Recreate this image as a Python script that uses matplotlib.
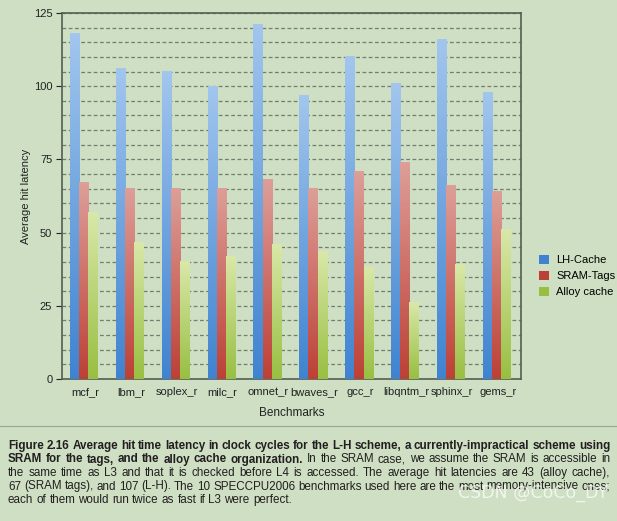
import matplotlib
matplotlib.use("Agg")
import matplotlib.pyplot as plt
import numpy as np
from matplotlib.colors import LinearSegmentedColormap
from matplotlib.ticker import MultipleLocator

benchmarks = ["mcf_r", "lbm_r", "soplex_r", "milc_r", "omnet_r",
              "bwaves_r", "gcc_r", "libqntm_r", "sphinx_r", "gems_r"]
lh_cache = [118, 106, 105, 100, 121, 97, 110, 101, 116, 98]
sram_tags = [67, 65, 65, 65, 68, 65, 71, 74, 66, 64]
alloy_cache = [57, 46.5, 40, 42, 46, 43.5, 38, 26, 39, 51]
series_names = ["LH-Cache", "SRAM-Tags", "Alloy cache"]

bg = "#cedfc3"
# (top colour, bottom colour) for the gradient fill
grads = [("#a2c6ee", "#3f83d0"), ("#dd9f99", "#bd4036"), ("#d9e8a8", "#98bf42")]

plt.rcParams['font.family'] = ['Liberation Sans', 'DejaVu Sans']

fig = plt.figure(figsize=(6.17, 5.21), dpi=100, facecolor=bg)
ax = fig.add_axes([0.1005, 0.2726, 0.7439, 0.7024])
ax.set_facecolor(bg)

x = np.arange(len(benchmarks))
width = 0.2
offsets = [-0.23, -0.03, 0.17]
grad_img = np.linspace(0, 1, 256).reshape(-1, 1)

handles = []
for vals, off, (c_top, c_bot), name in zip([lh_cache, sram_tags, alloy_cache], offsets, grads, series_names):
    cmap = LinearSegmentedColormap.from_list(name, [c_bot, c_top])
    bars = ax.bar(x + off, vals, width, color=c_top, edgecolor="none", label=name, zorder=3)
    for b in bars:
        bx, by = b.get_x(), b.get_y()
        ax.imshow(grad_img, cmap=cmap, aspect="auto", origin="lower",
                  extent=(bx, bx + b.get_width(), by, by + b.get_height()), zorder=4)
        b.set_facecolor("none")
    handles.append(plt.Rectangle((0, 0), 1, 1, facecolor=c_bot))

ax.set_xlim(-0.5, len(benchmarks) - 0.5)
ax.set_ylim(0, 125)
ax.yaxis.set_major_locator(MultipleLocator(25))
ax.yaxis.set_minor_locator(MultipleLocator(5))
ax.grid(axis="y", which="both", linestyle=(0, (3, 2)), color="#737d6e", linewidth=0.9, zorder=1)
ax.set_axisbelow(True)
ax.set_xticks(x)
ax.set_xticklabels(benchmarks, fontsize=8)
ax.tick_params(axis="x", length=0, pad=6, colors="#222222")
ax.tick_params(axis="y", which="major", length=4, labelsize=8, colors="#222222", pad=3)
ax.tick_params(axis="y", which="minor", length=0)
for s in ax.spines.values():
    s.set_color("#555e52")
    s.set_linewidth(1.2)

ax.set_xlabel("Benchmarks", fontsize=8.5, color="#222222", labelpad=7)
ax.set_ylabel("Average hit latency", fontsize=8, color="#222222", labelpad=2)

fig.legend(handles, series_names, loc="upper left", bbox_to_anchor=(0.858, 0.53),
           frameon=False, fontsize=8, handlelength=0.9, handleheight=0.9,
           handletextpad=0.6, labelspacing=0.5)

# caption rule
fig.add_artist(plt.Line2D([0, 1], [1 - 426 / 521, 1 - 426 / 521], color="#9aa396", linewidth=0.8))

caption = [
    ("Figure 2.16  Average hit time latency in clock cycles for the L-H scheme, a currently-impractical scheme using", ""),
    ("SRAM for the tags, and the alloy cache organization.", "In the SRAM case, we assume the SRAM is accessible in"),
    ("", "the same time as L3 and that it is checked before L4 is accessed. The average hit latencies are 43 (alloy cache),"),
    ("", "67 (SRAM tags), and 107 (L-H). The 10 SPECCPU2006 benchmarks used here are the most memory-intensive ones;"),
    ("", "each of them would run twice as fast if L3 were perfect."),
]
cap_font = ['Liberation Sans', 'DejaVu Sans']
cap_size = 8.4
left_px, right_px = 8, 610
line_y = [446, 459.5, 473, 486.5, 500]

fig.canvas.draw()
renderer = fig.canvas.get_renderer()
for i, (bold_part, normal_part) in enumerate(caption):
    words = [(w, "bold") for w in bold_part.split()] + [(w, "normal") for w in normal_part.split()]
    texts = []
    for w, weight in words:
        t = fig.text(0, 1 - line_y[i] / 521, w, fontsize=cap_size, fontweight=weight,
                     family=cap_font, color="#231f20", va="center", ha="left")
        texts.append(t)
    widths = [t.get_window_extent(renderer).width for t in texts]
    total = sum(widths)
    if i < len(caption) - 1 and len(texts) > 1:
        gap = (right_px - left_px - total) / (len(texts) - 1)
    else:
        gap = renderer.points_to_pixels(cap_size) * 0.27
    pos = left_px
    for t, w in zip(texts, widths):
        t.set_x(pos / 617)
        pos += w + gap

fig.text(0.985, 1 - 493 / 521, "CSDN @CoCo_DY", fontsize=12.5, color="white", alpha=0.7,
         ha="right", va="center", family=['Liberation Sans Narrow', 'DejaVu Sans'])

fig.savefig("out.png", dpi=100, facecolor=bg)
